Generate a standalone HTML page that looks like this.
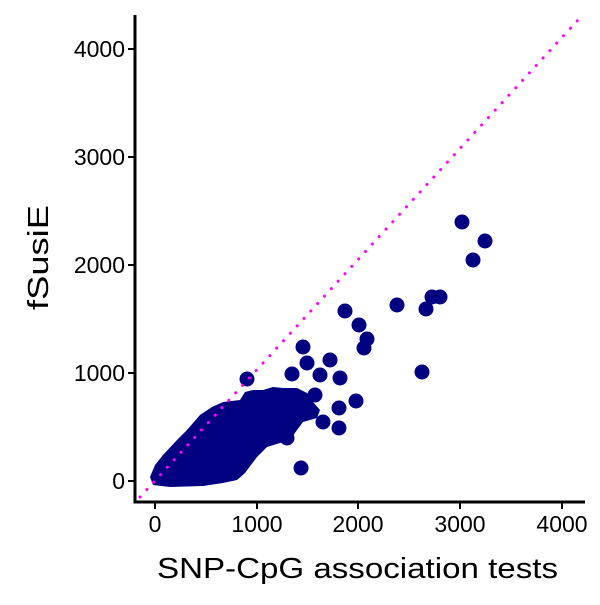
<!DOCTYPE html>
<html><head><style>body{margin:0;background:#fff}</style></head><body>
<svg width="600" height="600" xmlns="http://www.w3.org/2000/svg" font-family="Liberation Sans, sans-serif">
<rect width="600" height="600" fill="#fff"/>
<g fill="#000080">
<polygon points="150,477 155,465 163,455 177,440 187,430 200,415 212,407 223,402 240,400 245,392 253,390 263,390 273,387 283,388 297,388 307,393 313,402 320,410 317,418 303,422 297,430 290,440 280,443 267,447 257,457 245,473 237,480 223,483 203,486 170,487 153,485"/>
<g>
<circle cx="462" cy="222" r="7.5"/><circle cx="485" cy="241" r="7.5"/><circle cx="473" cy="260" r="7.5"/>
<circle cx="397" cy="305" r="7.5"/><circle cx="426" cy="309" r="7.5"/><circle cx="432" cy="297" r="7.5"/><circle cx="440" cy="297" r="7.5"/>
<circle cx="345" cy="311" r="7.5"/><circle cx="359" cy="325" r="7.5"/><circle cx="367" cy="339" r="7.5"/><circle cx="364" cy="348" r="7.5"/>
<circle cx="422" cy="372" r="7.5"/><circle cx="356" cy="401" r="7.5"/><circle cx="339" cy="408" r="7.5"/><circle cx="339" cy="428" r="7.5"/>
<circle cx="301" cy="468" r="7.5"/><circle cx="247" cy="379" r="7.5"/><circle cx="303" cy="347" r="7.5"/><circle cx="307" cy="363" r="7.5"/>
<circle cx="330" cy="360" r="7.5"/><circle cx="340" cy="378" r="7.5"/><circle cx="320" cy="375" r="7.5"/><circle cx="292" cy="374" r="7.5"/>
<circle cx="323" cy="422" r="7.5"/><circle cx="287" cy="438" r="7.5"/><circle cx="315" cy="395" r="7.5"/>
</g></g>
<line x1="140" y1="497" x2="578" y2="20" stroke="#ff00ff" stroke-width="3" stroke-dasharray="0.1 10" stroke-linecap="round"/>
<g stroke="#000" stroke-width="3" fill="none">
<line x1="135" y1="15" x2="135" y2="503.5"/><line x1="133.5" y1="502" x2="585" y2="502"/>
</g>
<g stroke="#000" stroke-width="2">
<line x1="128" y1="481" x2="135" y2="481"/><line x1="128" y1="373" x2="135" y2="373"/><line x1="128" y1="265" x2="135" y2="265"/><line x1="128" y1="157" x2="135" y2="157"/><line x1="128" y1="49" x2="135" y2="49"/>
<line x1="155" y1="502" x2="155" y2="509"/><line x1="257" y1="502" x2="257" y2="509"/><line x1="358" y1="502" x2="358" y2="509"/><line x1="460" y1="502" x2="460" y2="509"/><line x1="562" y1="502" x2="562" y2="509"/>
</g>
<g font-size="23" fill="#000" text-anchor="end">
<text x="125" y="489">0</text><text x="125" y="381">1000</text><text x="125" y="273">2000</text><text x="125" y="165">3000</text><text x="125" y="57">4000</text>
</g>
<g font-size="23" fill="#000" text-anchor="middle">
<text x="155" y="532">0</text><text x="257" y="532">1000</text><text x="358" y="532">2000</text><text x="460" y="532">3000</text><text x="562" y="532">4000</text>
</g>
<text x="157" y="578" font-size="29" textLength="401" lengthAdjust="spacingAndGlyphs">SNP-CpG association tests</text>
<text transform="translate(48,310) rotate(-90)" font-size="29" textLength="105" lengthAdjust="spacingAndGlyphs">fSusiE</text>
</svg>
</body></html>
